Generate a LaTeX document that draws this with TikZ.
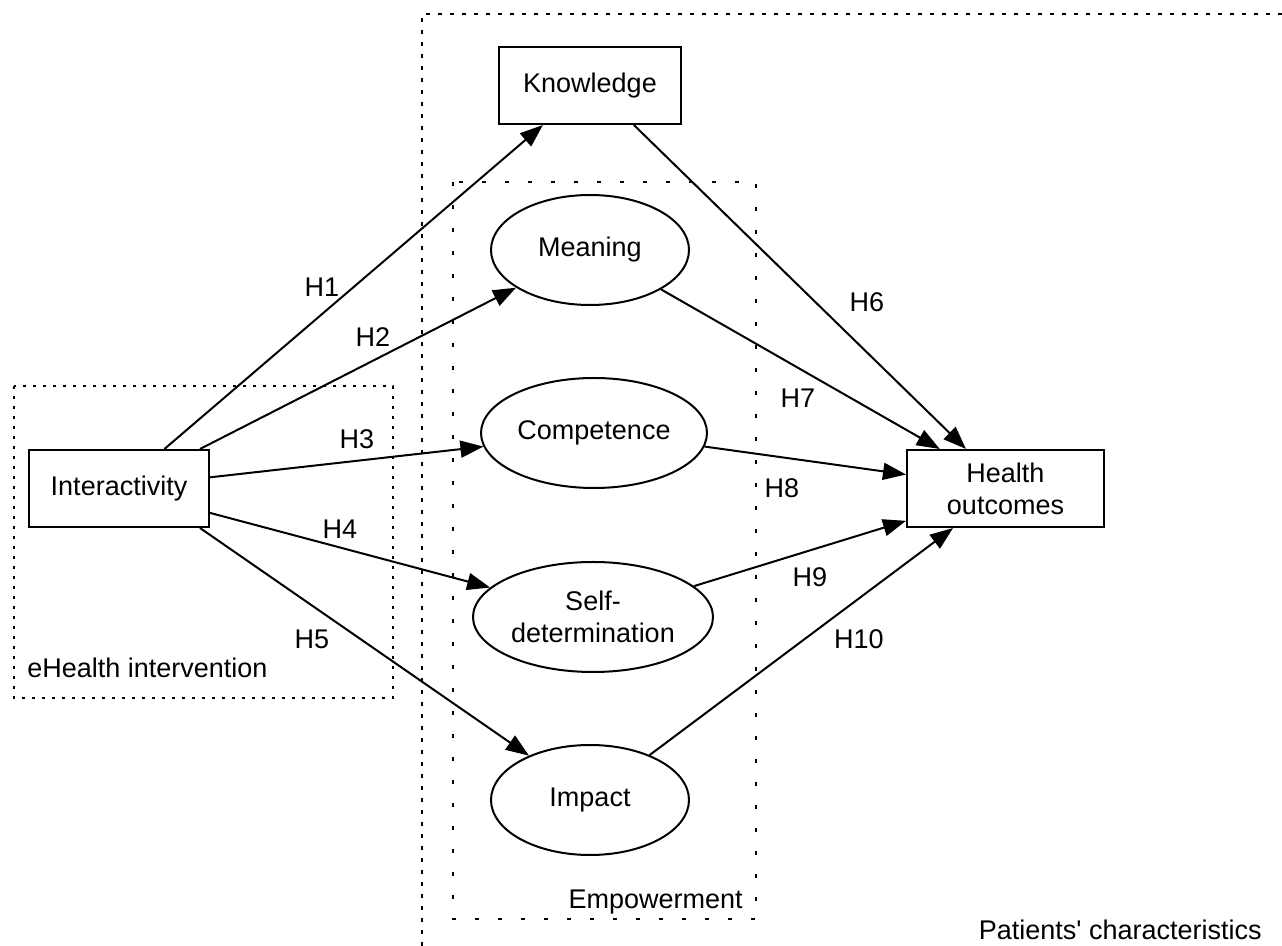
\documentclass[tikz,border=0pt]{standalone}
\usepackage{fontspec}
\setmainfont{Liberation Sans}
\usetikzlibrary{arrows.meta,shapes.geometric}

\begin{document}
\begin{tikzpicture}[x=0.5pt, y=-0.5pt,
    every node/.style={font=\fontsize{13.5}{16}\selectfont},
    box/.style={rectangle, draw=black, line width=1pt, fill=white,
        minimum height=38.5pt, inner sep=0pt, align=center},
    construct/.style={ellipse, draw=black, line width=1pt, fill=white,
        minimum height=55pt, inner sep=0pt, align=center},
    link/.style={line width=1pt, -{Triangle[length=11.5pt, width=8.5pt]}},
    hyp/.style={inner sep=0pt},
    group/.style={line width=1pt, dash pattern=on 1.5pt off 3.5pt}
]
    \useasboundingbox (0,0) rectangle (1282,946);
    % dotted groups
    \draw[group, dash pattern=on 2pt off 4pt] (1282,14) -- (422,14) -- (422,946);
    \draw[group] (14,386) rectangle (393,698);
    \draw[group, dash pattern=on 2pt off 9.5pt] (453,182) rectangle (756,919);
    \node[hyp, anchor=west] (ehealth) at (27,668) {eHealth intervention};
    \node[hyp, anchor=east] (empower) at (743,902) {Empowerment};
    \node[hyp, anchor=east] (patients) at (1262,930) {Patients\textquotesingle\ characteristics};
    % constructs
    \node[box, minimum width=90pt] (inter) at (119,488.5) {Interactivity};
    \node[box, minimum width=91pt] (know) at (590,85.5) {Knowledge};
    \node[box, minimum width=98.5pt] (health) at (1005.5,488.5) {Health\\outcomes};
    \node[construct, minimum width=99pt] (mean) at (590,250) {Meaning};
    \node[construct, minimum width=113pt] (comp) at (594,433) {Competence};
    \node[construct, minimum width=120pt] (self) at (593,617) {Self-\\determination};
    \node[construct, minimum width=99pt] (impact) at (590,800) {Impact};
    % hypotheses
    \draw[link] (inter.41.9) -- (know.220.8);
    \draw[link] (inter.26.9) -- (mean.207.2);
    \draw[link] (inter.7.3) -- (comp.187);
    \draw[link] (inter.-15.2) -- (self.164.7);
    \draw[link] (inter.-26) -- (impact.144.9);
    \draw[link] (know.-42.5) -- (health.135.7);
    \draw[link] (mean.-29.7) -- (health.149.5);
    \draw[link] (comp.-7.8) -- (health.172.5);
    \draw[link] (self.17.4) -- (health.198.1);
    \draw[link] (impact.37.5) -- (health.217.1);
    \node[hyp] (h1) at (322,287) {H1};
    \node[hyp] (h2) at (373,337) {H2};
    \node[hyp] (h3) at (357,439) {H3};
    \node[hyp] (h4) at (340,529) {H4};
    \node[hyp] (h5) at (312,639) {H5};
    \node[hyp] (h6) at (867,302) {H6};
    \node[hyp] (h7) at (798,398) {H7};
    \node[hyp] (h8) at (782,488) {H8};
    \node[hyp] (h9) at (810,577) {H9};
    \node[hyp] (h10) at (859,639) {H10};
\end{tikzpicture}
\end{document}
